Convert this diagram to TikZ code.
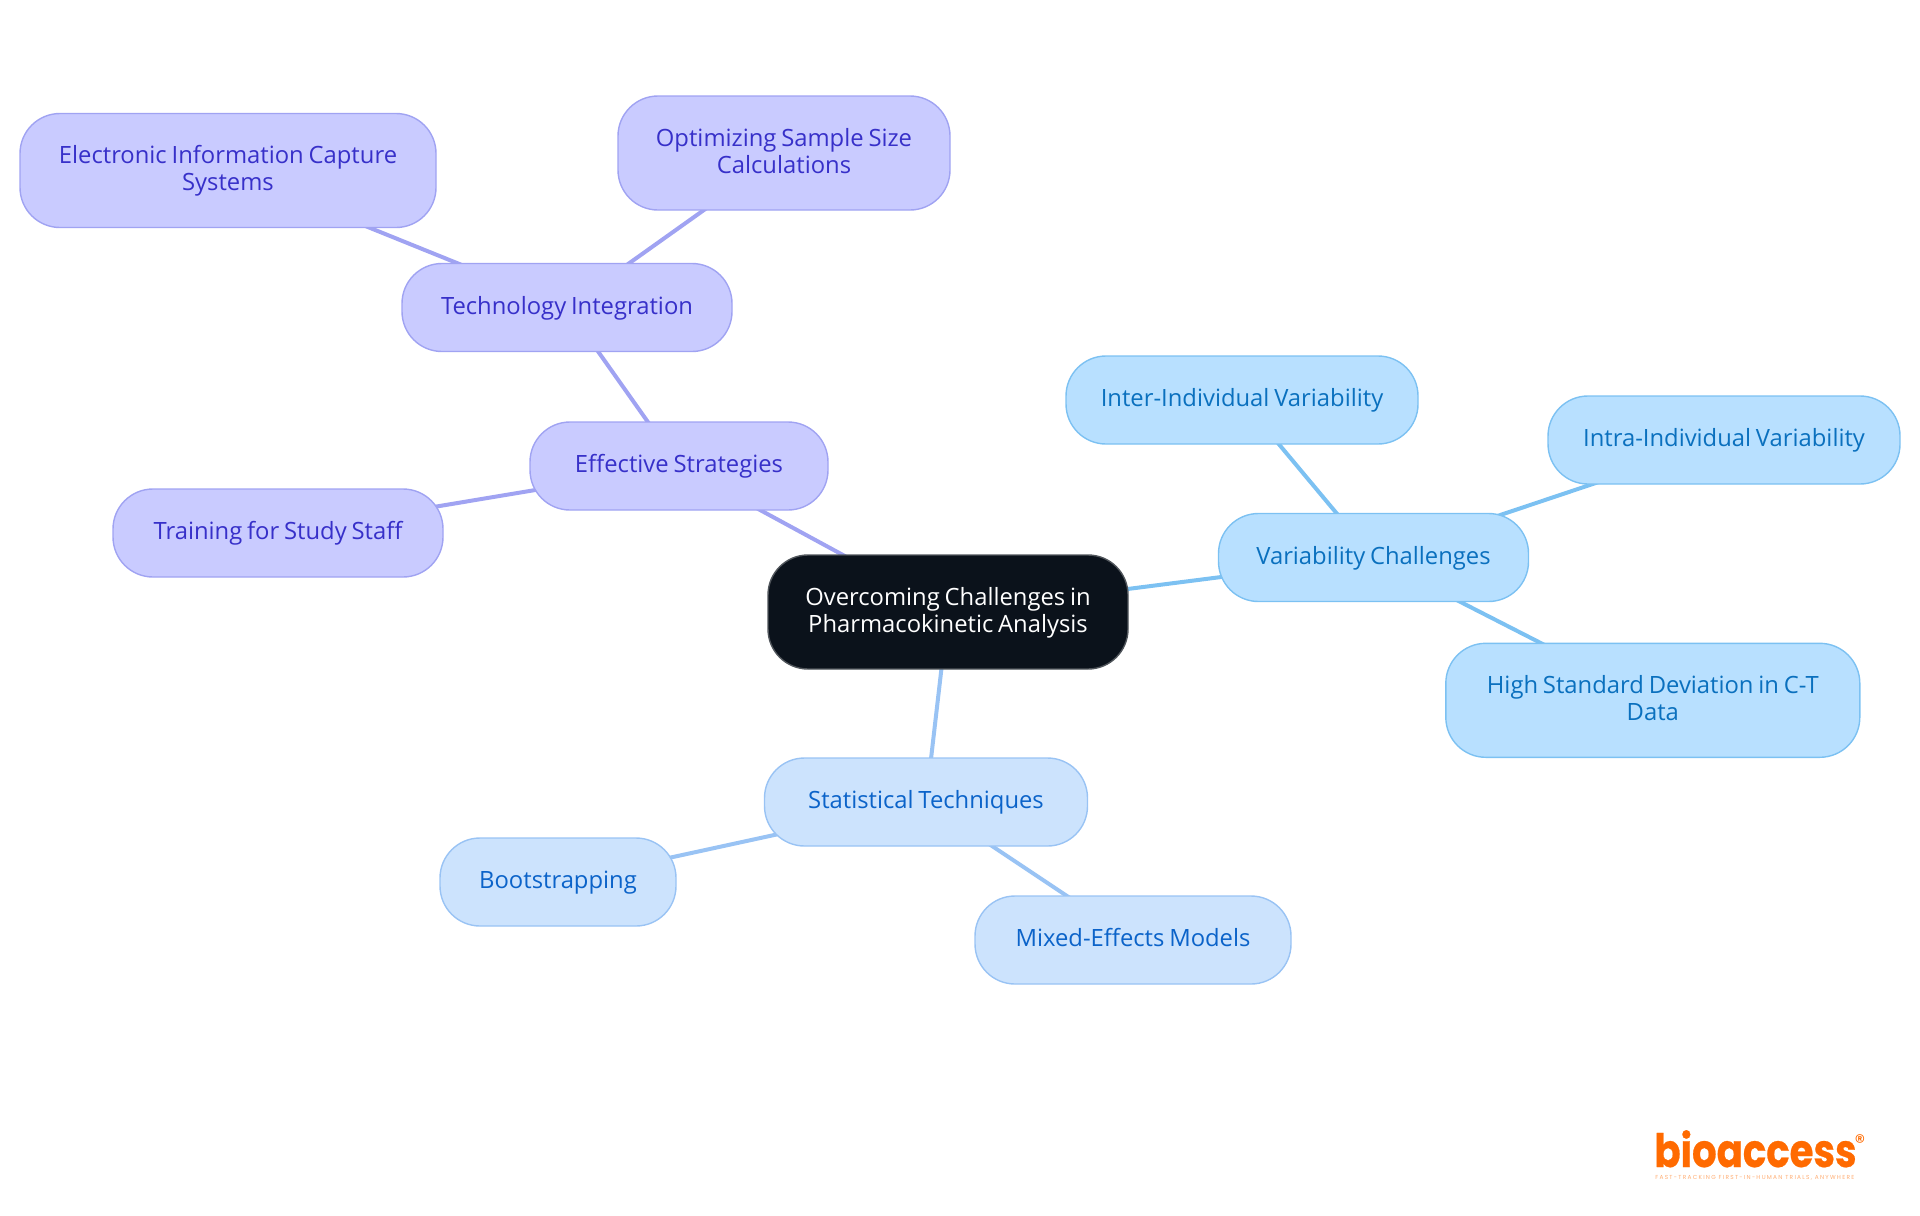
\documentclass[tikz,border=0pt]{standalone}
\usepackage{fontspec}
\setmainfont[WordSpace=0.78]{Open Sans}
\newfontfamily\logofont[FakeStretch=0.84,BoldFeatures={FakeBold=0.5}]{Poppins}
\newfontfamily\regfont{Poppins}
\newfontfamily\tagfont[LetterSpace=22]{Poppins}
\usetikzlibrary{backgrounds}
\definecolor{purpFill}{HTML}{C9CBFF}
\definecolor{purpLine}{HTML}{A0A3F2}
\definecolor{purpText}{HTML}{3730C9}
\definecolor{skyFill}{HTML}{B8E0FF}
\definecolor{skyLine}{HTML}{7CC1F2}
\definecolor{skyText}{HTML}{0A70BE}
\definecolor{paleFill}{HTML}{CCE3FD}
\definecolor{paleLine}{HTML}{99C3F4}
\definecolor{paleText}{HTML}{0B63C9}
\definecolor{rootFill}{HTML}{0B121B}
\definecolor{rootLine}{HTML}{50555B}
\definecolor{logoOrange}{HTML}{FF6A00}
\newcommand{\lst}{\rule[-3pt]{0pt}{12.75pt}}
\tikzset{
  x=0.5pt,y=-0.5pt,
  mapnode/.style={rectangle,rounded corners=20pt,inner sep=0pt,line width=0.7pt,align=center,font=\fontsize{11.9pt}{13.3pt}\selectfont},
  purp/.style={mapnode,fill=purpFill,draw=purpLine,text=purpText},
  sky/.style={mapnode,fill=skyFill,draw=skyLine,text=skyText},
  pale/.style={mapnode,fill=paleFill,draw=paleLine,text=paleText},
  rootnode/.style={mapnode,fill=rootFill,draw=rootLine,text=white},
  purpedge/.style={draw=purpLine,line width=2pt},
  skyedge/.style={draw=skyLine,line width=2pt},
  paleedge/.style={draw=paleLine,line width=2pt},
  dims/.style n args={2}{minimum width=#1*0.5pt,minimum height=#2*0.5pt},
}
\begin{document}
\begin{tikzpicture}
\useasboundingbox (0,0) rectangle (1920,1215);
\node[rootnode,dims={360}{114}] (root) at (948,612) {\lst Overcoming Challenges in\\\lst Pharmacokinetic Analysis};
\node[purp,dims={298}{88}] (eff) at (679,466) {\lst Effective Strategies};
\node[purp,dims={330}{88}] (tech) at (567,307.5) {\lst Technology Integration};
\node[purp,dims={416}{114}] (elec) at (228,170.5) {\lst Electronic Information Capture\\\lst Systems};
\node[purp,dims={332}{114}] (opt) at (784,153) {\lst Optimizing Sample Size\\\lst Calculations};
\node[purp,dims={330}{88}] (train) at (278,533) {\lst Training for Study Staff};
\node[sky,dims={310}{88}] (var) at (1373.5,557.5) {\lst Variability Challenges};
\node[sky,dims={352}{88}] (inter) at (1242,400) {\lst Inter-Individual Variability};
\node[sky,dims={352}{88}] (intra) at (1724,440) {\lst Intra-Individual Variability};
\node[sky,dims={414}{114}] (high) at (1652.8,700.3) {\lst High Standard Deviation in C-T\\\lst Data};
\node[pale,dims={323}{88}] (stat) at (926,802) {\lst Statistical Techniques};
\node[pale,dims={236}{88}] (boot) at (558,882) {\lst Bootstrapping};
\node[pale,dims={316}{88}] (mixed) at (1133,940) {\lst Mixed-Effects Models};
\begin{pgfonlayer}{background}
\draw[purpedge] (root.center) -- (eff.center);
\draw[purpedge] (eff.center) -- (tech.center);
\draw[purpedge] (eff.center) -- (train.center);
\draw[purpedge] (tech.center) -- (elec.center);
\draw[purpedge] (tech.center) -- (opt.center);
\draw[skyedge] (root.center) -- (var.center);
\draw[skyedge] (var.center) -- (inter.center);
\draw[skyedge] (var.center) -- (intra.center);
\draw[skyedge] (var.center) -- (high.center);
\draw[paleedge] (root.center) -- (stat.center);
\draw[paleedge] (stat.center) -- (boot.center);
\draw[paleedge] (stat.center) -- (mixed.center);
\end{pgfonlayer}
\node[anchor=base west,inner sep=0pt,text=logoOrange,font=\logofont\bfseries\fontsize{23pt}{23pt}\selectfont] (logo) at (1654,1167) {bioaccess};
\node[anchor=center,inner sep=0pt,text=logoOrange,font=\regfont\fontsize{10.5pt}{11pt}\selectfont] (reg) at (1860,1142) {®};
\node[anchor=base west,inner sep=0pt,text=logoOrange!55,font=\tagfont\fontsize{2.9pt}{3pt}\selectfont] (tag) at (1655,1179.5) {FAST-TRACKING FIRST-IN-HUMAN TRIALS, ANYWHERE};
\end{tikzpicture}
\end{document}
